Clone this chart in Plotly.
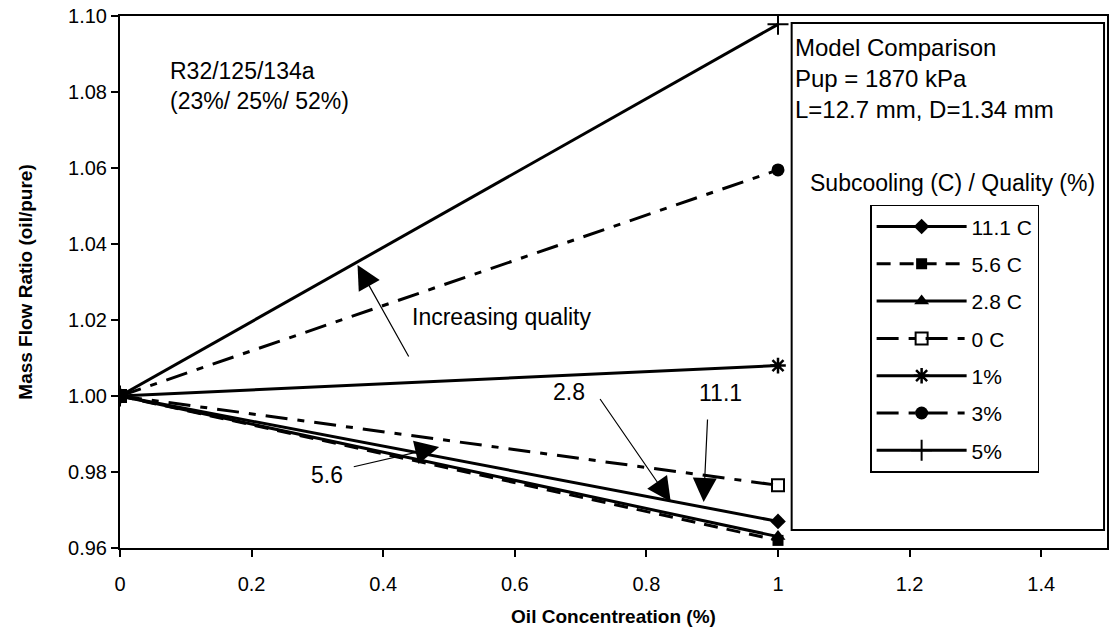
import plotly.graph_objects as go

# ---------------- data ----------------
oil_conc = [0, 1]
names = ["11.1 C", "5.6 C", "2.8 C", "0 C", "1%", "3%", "5%"]
ratio_11_1C = [1.0, 0.967]
ratio_5_6C = [1.0, 0.962]
ratio_2_8C = [1.0, 0.963]
ratio_0C = [1.0, 0.9765]
ratio_1pct = [1.0, 1.008]
ratio_3pct = [1.0, 1.0595]
ratio_5pct = [1.0, 1.0978]
x_ticks = [0, 0.2, 0.4, 0.6, 0.8, 1, 1.2, 1.4]
x_tick_text = ["0", "0.2", "0.4", "0.6", "0.8", "1", "1.2", "1.4"]
y_ticks = [0.96, 0.98, 1.00, 1.02, 1.04, 1.06, 1.08, 1.10]
y_tick_text = ["0.96", "0.98", "1.00", "1.02", "1.04", "1.06", "1.08", "1.10"]

series = [ratio_11_1C, ratio_5_6C, ratio_2_8C, ratio_0C, ratio_1pct, ratio_3pct, ratio_5pct]

DASHDOT = "22px,10px,7px,10px"
styles = [
    dict(dash="solid", symbol="diamond", size=12, mline=0),
    dict(dash="14px,9px", symbol="square", size=11, mline=0),
    dict(dash="solid", symbol="triangle-up", size=13, mline=0),
    dict(dash=DASHDOT, symbol="square-open", size=12, mline=2),
    dict(dash="solid", symbol="asterisk-open", size=13, mline=2.5),
    dict(dash=DASHDOT, symbol="circle", size=13, mline=0),
    dict(dash="solid", symbol="cross-thin-open", size=15, mline=2),
]

FONT = "Liberation Sans, Arial, sans-serif"

fig = go.Figure()
for name, vals, st in zip(names, series, styles):
    fig.add_trace(go.Scatter(
        x=oil_conc, y=vals, name=name, mode="lines+markers",
        legendgroup=name,
        line=dict(color="black", width=3, dash=st["dash"]),
        marker=dict(symbol=st["symbol"], size=st["size"], color="black",
                    line=dict(color="black", width=st["mline"])),
    ))

axis_common = dict(showgrid=False, zeroline=False, showline=True, linecolor="black",
                   linewidth=2, mirror=True, ticks="outside", ticklen=7, tickwidth=1.5,
                   tickcolor="black", tickfont=dict(family=FONT, size=20, color="black"))

fig.update_layout(
    width=1109, height=634,
    margin=dict(l=120, r=0, t=16, b=86),
    paper_bgcolor="white", plot_bgcolor="white",
    font=dict(family=FONT, color="black"),
    xaxis=dict(range=[0, 1.5], tickvals=x_ticks, ticktext=x_tick_text,
               ticklabelstandoff=10,
               title=dict(text="<b>Oil Concentreation (%)</b>",
                          font=dict(family=FONT, size=19), standoff=16),
               **axis_common),
    yaxis=dict(range=[0.96, 1.10], tickvals=y_ticks, ticktext=y_tick_text,
               title=dict(text="<b>Mass Flow Ratio (oil/pure)</b>",
                          font=dict(family=FONT, size=19), standoff=30),
               **axis_common),
    xaxis2=dict(overlaying="x", matches="x", anchor="y", side="bottom",
                showticklabels=False, ticks="inside", ticklen=6, tickwidth=1.5,
                tickcolor="black", tickvals=x_ticks, showgrid=False, zeroline=False,
                showline=False, range=[0, 1.5]),
    yaxis2=dict(overlaying="y", matches="y", anchor="x", side="left",
                showticklabels=False, ticks="inside", ticklen=6, tickwidth=1.5,
                tickcolor="black", tickvals=y_ticks, showgrid=False, zeroline=False,
                showline=False, range=[0.96, 1.10]),
    showlegend=True,
    legend=dict(x=0.760, y=0.645, xanchor="left", yanchor="top",
                bordercolor="black", borderwidth=1.5, bgcolor="white",
                font=dict(family=FONT, size=21, color="black"),
                itemwidth=90, tracegroupgap=7, traceorder="grouped"),
)

# outer comparison box
fig.add_shape(type="rect", xref="paper", yref="paper",
              x0=0.6805, x1=0.997, y0=0.034, y1=0.987,
              line=dict(color="black", width=2), fillcolor="rgba(0,0,0,0)", layer="below")

annos = [
    dict(text="Model Comparison<br>Pup = 1870 kPa<br>L=12.7 mm, D=1.34 mm",
         xref="paper", yref="paper", x=0.6815, y=0.8825, xanchor="left", yanchor="middle",
         align="left", font=dict(size=24)),
    dict(text="Subcooling (C) / Quality (%)", xref="paper", yref="paper",
         x=0.843, y=0.686, xanchor="center", yanchor="middle", font=dict(size=23)),
    dict(text="R32/125/134a<br>(23%/ 25%/ 52%)", xref="x", yref="y",
         x=0.073, y=1.0816, xanchor="left", yanchor="middle", align="left",
         font=dict(size=23)),
    dict(text="Increasing quality", xref="x", yref="y", x=0.44, y=1.0208,
         xanchor="left", yanchor="middle", font=dict(size=23)),
    dict(text="2.8", xref="x", yref="y", x=0.6825, y=1.0011,
         xanchor="center", yanchor="middle", font=dict(size=23)),
    dict(text="11.1", xref="x", yref="y", x=0.913, y=1.0008,
         xanchor="center", yanchor="middle", font=dict(size=23)),
    dict(text="5.6", xref="x", yref="y", x=0.315, y=0.9792,
         xanchor="center", yanchor="middle", font=dict(size=23)),
]
for a in annos:
    a.setdefault("showarrow", False)
    a["font"] = dict(family=FONT, color="black", size=a["font"]["size"])
    fig.add_annotation(**a)

arrows = [
    ((0.361, 1.0345), (0.44, 1.0100)),   # increasing quality
    ((0.837, 0.9722), (0.728, 0.9996)),  # 2.8
    ((0.887, 0.9721), (0.893, 0.9942)),  # 11.1
    ((0.485, 0.9866), (0.353, 0.9813)),  # 5.6
]
for (hx, hy), (tx, ty) in arrows:
    fig.add_annotation(x=hx, y=hy, ax=tx, ay=ty, xref="x", yref="y",
                       axref="x", ayref="y", text="", showarrow=True,
                       arrowhead=2, arrowsize=4, arrowwidth=1.2, arrowcolor="black")

fig.write_html("out.html")
